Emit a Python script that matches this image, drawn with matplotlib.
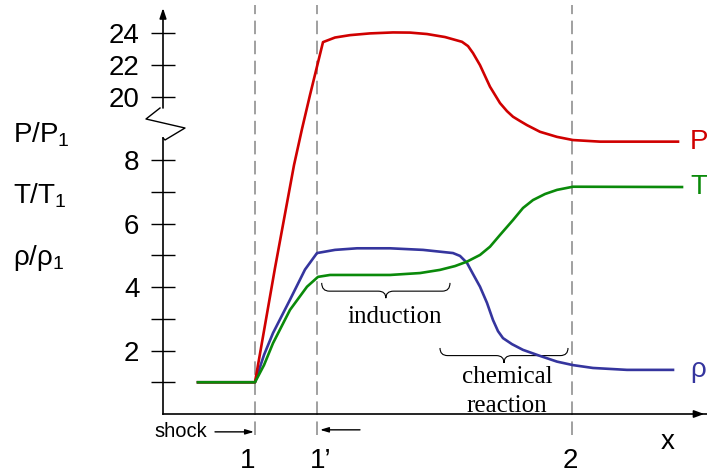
import matplotlib
matplotlib.use("Agg")
import matplotlib.pyplot as plt
from matplotlib.path import Path
import matplotlib.patches as mpatches
import numpy as np

plt.rcParams["font.family"] = ["Liberation Sans", "DejaVu Sans"]
plt.rcParams["mathtext.fontset"] = "custom"
plt.rcParams["mathtext.rm"] = "Liberation Sans"
plt.rcParams["mathtext.it"] = "Liberation Sans:italic"

# positions along x (arbitrary units)
X_SHOCK = 0.92
X_1P = 1.54
X_2 = 4.09
STATIONS = [X_SHOCK, X_1P, X_2]
STATION_LABELS = ["1", "1\u2019", "2"]
LABEL_SHIFT = [-0.07, 0.04, -0.02]

p_x = [0.35, 0.92, 1.12, 1.31, 1.39, 1.47, 1.60, 1.72, 1.87, 2.07, 2.30, 2.47, 2.64, 2.82,
       2.99, 3.05, 3.10, 3.17, 3.22, 3.27, 3.37, 3.44, 3.50, 3.57, 3.64, 3.77, 3.94, 4.10,
       4.37, 5.15]
p_val = [1, 1, 4.6, 7.84, 8.98, 20.1, 23.43, 23.72, 23.87, 23.98, 24.04, 24.03, 23.94, 23.75,
         23.45, 23.18, 22.74, 21.98, 21.3, 20.62, 19.59, 19.08, 16.3, 13.6, 11.0, 8.89, 8.73,
         8.63, 8.58, 8.58]

t_x = [0.35, 0.92, 1.01, 1.10, 1.27, 1.44, 1.55, 1.67, 2.27, 2.57, 2.77, 2.92, 3.04,
       3.17, 3.27, 3.37, 3.50, 3.60, 3.70, 3.82, 3.94, 4.10, 5.19]
t_val = [1, 1, 1.54, 2.23, 3.28, 4.01, 4.32, 4.38, 4.38, 4.44, 4.54, 4.66, 4.80,
         5.01, 5.27, 5.64, 6.11, 6.49, 6.74, 6.93, 7.06, 7.16, 7.15]

rho_x = [0.35, 0.92, 1.01, 1.10, 1.27, 1.42, 1.54, 1.72, 1.94, 2.27, 2.60, 2.90, 2.97,
         3.04, 3.10, 3.17, 3.24, 3.30, 3.35, 3.40, 3.49, 3.60, 3.77, 3.94, 4.10, 4.30,
         4.64, 5.10]
rho_val = [1, 1, 1.86, 2.55, 3.6, 4.55, 5.07, 5.17, 5.22, 5.22, 5.17, 5.07, 4.98,
           4.76, 4.41, 4.01, 3.50, 2.96, 2.61, 2.39, 2.20, 2.02, 1.83, 1.65, 1.54, 1.45,
           1.39, 1.39]

major_ticks = [2, 4, 6, 8, 20, 22, 24]
minor_ticks = [1, 3, 5, 7]

RED = "#d00000"
GREEN = "#0a8a0a"
BLUE = "#35359e"
DASH = "#999999"


def fwd(v):
    v = np.asarray(v, float)
    return np.where(v <= 9, v, np.where(v < 19, 9 + (v - 9) * 0.05, 10 + (v - 20) / 2))


def inv(p):
    p = np.asarray(p, float)
    return np.where(p <= 9, p, np.where(p < 9.5, 9 + (p - 9) / 0.05, 20 + 2 * (p - 10)))


def brace(ax, x0, x1, y0, y1, y2):
    xm = (x0 + x1) / 2
    r = (x1 - x0) * 0.06
    verts = [(x0, y0), (x0, y1), (x0 + r, y1), (xm - r, y1), (xm, y1), (xm, y2),
             (xm, y1), (xm + r, y1), (x1 - r, y1), (x1, y1), (x1, y0)]
    codes = [Path.MOVETO, Path.CURVE3, Path.CURVE3, Path.LINETO, Path.CURVE3, Path.CURVE3,
             Path.CURVE3, Path.CURVE3, Path.LINETO, Path.CURVE3, Path.CURVE3]
    ax.add_patch(mpatches.PathPatch(Path(verts, codes), fc="none", ec="black", lw=0.8))


fig = plt.figure(figsize=(7.07, 4.76), dpi=100)
ax = fig.add_axes([163 / 707, 62 / 476, 544 / 707, 406 / 476])
ax.set_yscale("function", functions=(fwd, inv))
ax.set_xlim(0, 5.44)
ax.set_ylim(0, 25.58)

for xs in STATIONS:
    ax.plot([xs, xs], [-0.052, 1.007], transform=ax.get_xaxis_transform(), color=DASH,
            lw=1.3, dashes=(7.5, 3.6), clip_on=False, zorder=1)

ax.plot(rho_x, rho_val, color=BLUE, lw=1.9, zorder=3)
ax.plot(p_x, p_val, color=RED, lw=1.9, zorder=3)
ax.plot(t_x, t_val, color=GREEN, lw=1.9, zorder=4)

# axes lines
for s in ["top", "right", "left"]:
    ax.spines[s].set_visible(False)
ax.spines["bottom"].set_linewidth(1.2)
ax.set_xticks([])
ax.annotate("", xy=(1.0, 0), xytext=(0.98, 0), xycoords="axes fraction",
            arrowprops=dict(arrowstyle="-|>,head_length=0.6,head_width=0.22", color="black", lw=1.2))
ax.plot([0, 0], [0, 0.6798], transform=ax.transAxes, color="black", lw=1.2, clip_on=False)
ax.plot([-0.0055, -0.03125, 0.0404, 0.0037, 0], [0.7537, 0.7266, 0.7044, 0.6749, 0.6798],
        transform=ax.transAxes, color="black", lw=1.0, clip_on=False)
ax.annotate("", xy=(0, 1.0), xytext=(0, 0.7537), xycoords="axes fraction",
            arrowprops=dict(arrowstyle="-|>,head_length=0.6,head_width=0.2", color="black",
                            lw=1.2, shrinkA=0, shrinkB=0))

ax.set_yticks(major_ticks)
ax.set_yticks(minor_ticks, minor=True)
ax.set_yticklabels([str(t) for t in major_ticks])
ax.tick_params(axis="y", which="both", direction="inout", length=17, width=1.0,
               labelsize=20, pad=8.5)

# station labels
for xs, lab, dx in zip(STATIONS, STATION_LABELS, LABEL_SHIFT):
    ax.text(xs + dx, -0.115, lab, transform=ax.get_xaxis_transform(), ha="center",
            va="center", fontsize=20)
ax.text(5.05, -0.068, "x", transform=ax.get_xaxis_transform(), ha="center", va="center",
        fontsize=20)

ax.text(0.18, -0.044, "shock", transform=ax.get_xaxis_transform(), ha="center", va="center",
        fontsize=14.5)
ax.annotate("", xy=(X_SHOCK - 0.01, -0.044), xytext=(0.52, -0.044),
            xycoords=ax.get_xaxis_transform(),
            arrowprops=dict(arrowstyle="-|>,head_length=0.5,head_width=0.15", color="black",
                            lw=1.0, shrinkA=0, shrinkB=0))
ax.annotate("", xy=(X_1P + 0.03, -0.039), xytext=(1.97, -0.039),
            xycoords=ax.get_xaxis_transform(),
            arrowprops=dict(arrowstyle="-|>,head_length=0.5,head_width=0.15", color="black",
                            lw=1.0, shrinkA=0, shrinkB=0))

# y-axis quantity labels
for yy, lab in [(0.687, r"$\mathrm{P/P_1}$"), (0.537, r"$\mathrm{T/T_1}$"),
                (0.384, r"$\mathrm{\rho/\rho_1}$")]:
    ax.text(-0.276, yy, lab, transform=ax.transAxes, ha="left", va="center", fontsize=20)

# end-of-curve labels
ax.text(5.27, p_val[-1], "P", color=RED, ha="left", va="center", fontsize=20, clip_on=False)
ax.text(5.27, t_val[-1], "T", color=GREEN, ha="left", va="center", fontsize=20, clip_on=False)
ax.text(5.27, rho_val[-1], "\u03c1", color=BLUE, ha="left", va="center", fontsize=20,
        clip_on=False)

# braces and annotations
brace(ax, 1.587, 2.87, 4.13, 3.87, 3.65)
ax.text(2.32, 2.87, "induction", ha="center", va="baseline", fontsize=18,
        family="Liberation Serif")
brace(ax, 2.77, 4.05, 2.08, 1.84, 1.61)
ax.text(3.44, 0.97, "chemical", ha="center", va="baseline", fontsize=18,
        family="Liberation Serif")
ax.text(3.44, 0.07, "reaction", ha="center", va="baseline", fontsize=18,
        family="Liberation Serif")

fig.savefig("out.png", dpi=100)
